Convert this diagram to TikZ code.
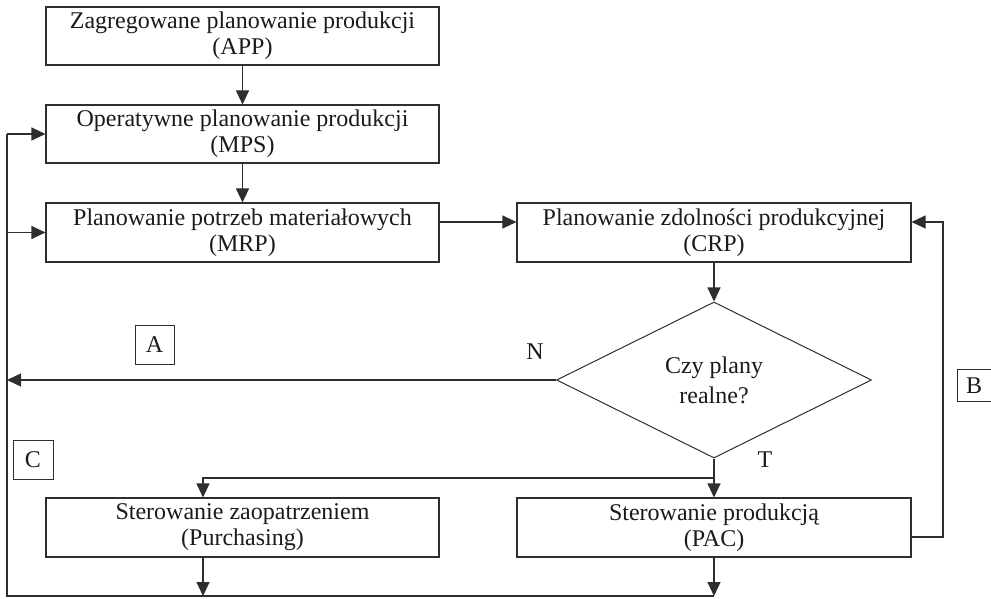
\documentclass[tikz,border=0pt]{standalone}
\usepackage{fontspec}
\setmainfont{Liberation Serif}
\usetikzlibrary{shapes.geometric,arrows.meta,calc}
\definecolor{ink}{HTML}{1A1A1A}
\definecolor{wire}{HTML}{2E2E2E}
\begin{document}
\begin{tikzpicture}[x=1pt,y=-1pt,
  every node/.style={text=ink},
  procbox/.style={draw=wire, line width=1.1pt, minimum width=393pt, minimum height=59pt,
    inner sep=0pt, align=center, font=\fontsize{24}{26}\selectfont},
  decision/.style={draw=wire, line width=1pt, diamond, aspect=2, minimum width=315pt,
    minimum height=156pt, inner sep=0pt, align=center, font=\fontsize{24}{30}\selectfont},
  tagbox/.style={draw=wire, line width=1pt, minimum width=39pt, minimum height=39pt,
    inner sep=0pt, font=\fontsize{24}{26}\selectfont},
  tag/.style={inner sep=0pt, font=\fontsize{24}{26}\selectfont},
  link/.style={draw=wire, line width=1.1pt},
  flow/.style={link, -{Triangle[length=14pt,width=13pt]}}]
\useasboundingbox (0,0) rectangle (991,599);

% process boxes
\node[procbox, minimum height=58pt] (app) at (242.5,36) {Zagregowane planowanie produkcji\\(APP)};
\node[procbox, minimum height=58pt] (mps) at (242.5,134) {Operatywne planowanie produkcji\\(MPS)};
\node[procbox] (mrp) at (242.5,232.5) {Planowanie potrzeb materiałowych\\(MRP)};
\node[procbox, minimum width=394pt] (crp) at (714,232.5) {Planowanie zdolności produkcyjnej\\(CRP)};
\node[decision] (dec) at (714,380) {Czy plany\\realne?};
\node[procbox] (pur) at (242.5,527.5) {Sterowanie zaopatrzeniem\\(Purchasing)};
\node[procbox, minimum width=394pt] (pac) at (714,527.5) {Sterowanie produkcją\\(PAC)};

% branch labels
\node[tagbox] (tA) at (154.5,344.5) {A};
\node[tagbox, minimum width=34pt, minimum height=32pt] (tB) at (974,385.5) {B};
\node[tagbox, minimum width=40pt] (tC) at (33,459.5) {C};
\node[tag] (lN) at (535,352) {N};
\node[tag] (lT) at (765,460) {T};

% helper points of the return lines
\coordinate (busTop) at (7,134);
\coordinate (busMrp) at (7,232.5);
\coordinate (busN) at (7,380);
\coordinate (busBot) at (7,596);
\coordinate (botEnd) at (714,596);
\coordinate (split) at (714,478);
\coordinate (splitL) at (203,478);
\coordinate (bTop) at (943,222);
\coordinate (bBot) at (943,537);

% main flow
\draw[flow] (app) -- (mps);
\draw[flow] (mps) -- (mrp);
\draw[flow] ([yshift=10.5pt]mrp.east) -- ([yshift=10.5pt]crp.west);
\draw[flow] (crp) -- (dec);
\draw[flow] (dec.south) -- (pac.north);
\draw[flow] (split) -- (splitL) -- (splitL |- pur.north);

% answer N back to the left bus
\draw[flow] (dec.west) -- (busN);

% loop B from PAC back to CRP
\draw[flow] (pac.east |- bBot) -- (bBot) -- (bTop) -- (crp.east |- bTop);

% loop C along the bottom and up the left side
\draw[link] (botEnd) -- (busBot) -- (busTop);
\draw[flow] (busTop) -- (mps.west);
\draw[flow] (busMrp) -- (mrp.west);
\draw[flow] (splitL |- pur.south) -- (splitL |- busBot);
\draw[flow] (pac.south) -- (botEnd);
\end{tikzpicture}
\end{document}
